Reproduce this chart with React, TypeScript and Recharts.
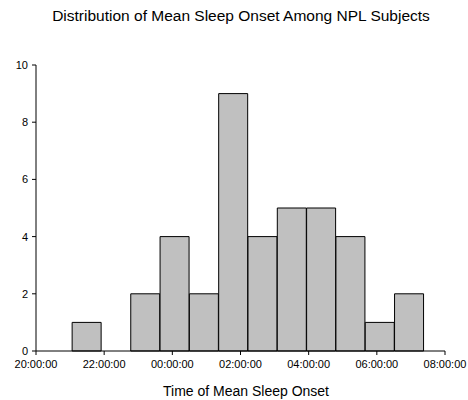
import React from "react";
import { BarChart, Bar, XAxis, YAxis } from "recharts";

// bin start times (hours after 20:00) and subject counts per bin
const binStarts = [1.06, 1.92, 2.78, 3.64, 4.5, 5.36, 6.22, 7.08, 7.94, 8.8, 9.66, 10.52];
const binWidth = 0.86;
const counts = [1, 0, 2, 4, 2, 9, 4, 5, 5, 4, 1, 2];
const xTicks = [0, 2, 4, 6, 8, 10, 12];
const yTicks = [0, 2, 4, 6, 8, 10];

const data = binStarts.map((s, i) => ({ mid: s + binWidth / 2, count: counts[i] }));

const font = "'Liberation Sans', Arial, sans-serif";

const fmtTime = (v: number) => {
  const h = (20 + v) % 24;
  return `${String(h).padStart(2, "0")}:00:00`;
};

export default function App() {
  return (
    <div style={{ position: "absolute", left: 0, top: 0, width: 468, height: 400, background: "#fff", fontFamily: font }}>
      <div style={{ position: "absolute", top: 7, left: 7, width: 468, textAlign: "center", fontSize: 15.5, lineHeight: "18px", color: "#000", whiteSpace: "nowrap" }}>
        Distribution of Mean Sleep Onset Among NPL Subjects
      </div>
      <BarChart
        width={468}
        height={400}
        data={data}
        margin={{ top: 65, right: 23, bottom: 0, left: 0 }}
        barCategoryGap={0}
        barGap={0}
      >
        <XAxis
          dataKey="mid"
          type="number"
          domain={[0, 12]}
          ticks={xTicks}
          tickFormatter={fmtTime}
          interval={0}
          height={49}
          tickSize={4}
          tickMargin={5}
          stroke="#000"
          tick={{ fill: "#000", fontSize: 11, fontFamily: font }}
        />
        <XAxis xAxisId="top" orientation="top" type="number" domain={[0, 12]} tick={false} tickLine={false} height={0} stroke="#000" />
        <YAxis
          domain={[0, 10]}
          ticks={yTicks}
          width={36}
          tickSize={4}
          tickMargin={4}
          stroke="#000"
          tick={{ fill: "#000", fontSize: 11, fontFamily: font }}
        />
        <YAxis yAxisId="right" orientation="right" domain={[0, 10]} tick={false} tickLine={false} width={0} stroke="#000" />
        <Bar dataKey="count" fill="#c0c0c0" stroke="#000" strokeWidth={1} isAnimationActive={false} />
      </BarChart>
      <div style={{ position: "absolute", top: 383, left: 12, width: 468, textAlign: "center", fontSize: 14, lineHeight: "16px", color: "#000", whiteSpace: "nowrap" }}>
        Time of Mean Sleep Onset
      </div>
    </div>
  );
}
